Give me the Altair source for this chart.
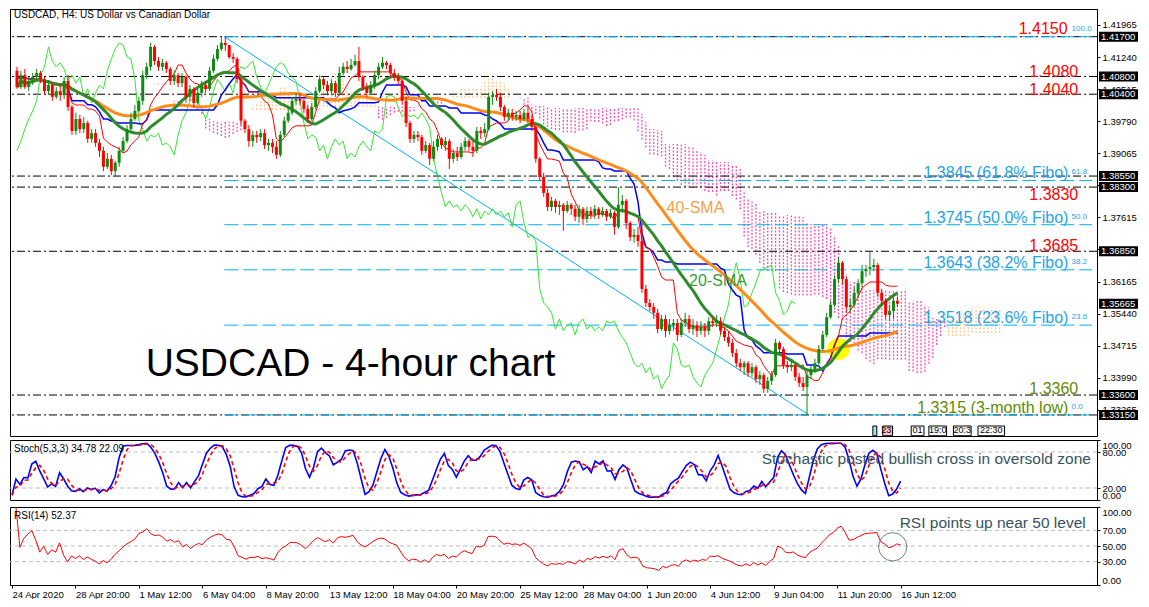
import json
import altair as alt
import pandas as pd
import numpy as np

# ---------------- data ----------------
OPEN0 = 1.4093
CLOSE = [
 1.4056,1.4083,1.4056,1.4070,1.4079,1.4088,1.4074,1.4047,1.4061,1.4034,
 1.4047,1.4038,1.4070,1.4011,1.3957,1.3984,1.3961,1.3975,1.3939,1.3952,
 1.3930,1.3912,1.3876,1.3894,1.3866,1.3885,1.3912,1.3934,1.3961,1.3984,
 1.4002,1.4025,1.4083,1.4102,1.4147,1.4115,1.4102,1.4111,1.4097,1.4070,
 1.4083,1.4065,1.4079,1.4034,1.4052,1.4020,1.4043,1.4061,1.4052,1.4093,
 1.4120,1.4142,1.4156,1.4151,1.4124,1.4120,1.4074,1.3980,1.3961,1.3934,
 1.3948,1.3943,1.3952,1.3925,1.3930,1.3921,1.3903,1.3948,1.3980,1.3998,
 1.4025,1.4029,1.4025,1.4007,1.3984,1.4011,1.4047,1.4074,1.4061,1.4047,
 1.4065,1.4043,1.4088,1.4102,1.4097,1.4106,1.4115,1.4079,1.4056,1.4043,
 1.4061,1.4083,1.4102,1.4111,1.4106,1.4088,1.4079,1.4070,1.4025,1.3975,
 1.3939,1.3948,1.3943,1.3912,1.3925,1.3894,1.3921,1.3939,1.3925,1.3934,
 1.3894,1.3907,1.3898,1.3921,1.3934,1.3921,1.3912,1.3957,1.3952,1.3961,
 1.4034,1.4038,1.4034,1.4011,1.3989,1.3998,1.3989,1.3993,1.3984,1.3998,
 1.3984,1.3966,1.3894,1.3853,1.3817,1.3785,1.3799,1.3785,1.3790,1.3776,
 1.3790,1.3781,1.3763,1.3781,1.3758,1.3776,1.3767,1.3781,1.3767,1.3776,
 1.3763,1.3772,1.3740,1.3790,1.3799,1.3749,1.3717,1.3722,1.3708,1.3600,
 1.3568,1.3559,1.3546,1.3509,1.3532,1.3505,1.3518,1.3523,1.3496,1.3523,
 1.3532,1.3509,1.3518,1.3505,1.3514,1.3505,1.3527,1.3523,1.3527,1.3505,
 1.3491,1.3478,1.3455,1.3432,1.3423,1.3432,1.3410,1.3423,1.3396,1.3405,
 1.3374,1.3392,1.3405,1.3478,1.3464,1.3428,1.3423,1.3428,1.3401,1.3387,
 1.3378,1.3405,1.3419,1.3432,1.3464,1.3496,1.3536,1.3564,1.3622,1.3659,
 1.3622,1.3559,1.3564,1.3591,1.3613,1.3640,1.3645,1.3649,1.3654,1.3591,
 1.3573,1.3541,1.3550,1.3573,1.35665]
HIGH = [
 1.4102,1.4093,1.4097,1.4079,1.4088,1.4097,1.4093,1.4079,1.4070,1.4065,
 1.4056,1.4061,1.4079,1.4083,1.4016,1.3998,1.3993,1.3989,1.3980,1.3961,
 1.3961,1.3939,1.3921,1.3907,1.3903,1.3889,1.3921,1.3943,1.3970,1.3998,
 1.4016,1.4034,1.4093,1.4111,1.4156,1.4151,1.4124,1.4120,1.4115,1.4102,
 1.4093,1.4088,1.4088,1.4083,1.4061,1.4056,1.4052,1.4070,1.4070,1.4102,
 1.4129,1.4151,1.4169,1.4170,1.4151,1.4133,1.4124,1.4079,1.3984,1.3970,
 1.3957,1.3957,1.3961,1.3961,1.3939,1.3939,1.3934,1.3957,1.3989,1.4011,
 1.4034,1.4043,1.4043,1.4029,1.4016,1.4020,1.4056,1.4083,1.4079,1.4070,
 1.4074,1.4070,1.4102,1.4111,1.4115,1.4120,1.4129,1.4147,1.4083,1.4065,
 1.4070,1.4093,1.4111,1.4124,1.4115,1.4111,1.4097,1.4088,1.4074,1.4034,
 1.3980,1.3957,1.3957,1.3948,1.3934,1.3930,1.3934,1.3948,1.3943,1.3943,
 1.3939,1.3916,1.3921,1.3930,1.3943,1.3939,1.3934,1.3966,1.3966,1.3975,
 1.4043,1.4047,1.4052,1.4043,1.4016,1.4007,1.4007,1.4002,1.4002,1.4007,
 1.4011,1.3993,1.3970,1.3898,1.3862,1.3826,1.3808,1.3803,1.3799,1.3794,
 1.3799,1.3794,1.3790,1.3790,1.3785,1.3785,1.3785,1.3790,1.3785,1.3785,
 1.3781,1.3781,1.3776,1.3830,1.3812,1.3803,1.3753,1.3735,1.3740,1.3749,
 1.3609,1.3577,1.3568,1.3555,1.3541,1.3541,1.3532,1.3532,1.3532,1.3532,
 1.3546,1.3541,1.3532,1.3527,1.3527,1.3523,1.3536,1.3536,1.3541,1.3536,
 1.3514,1.3505,1.3487,1.3464,1.3442,1.3437,1.3437,1.3432,1.3428,1.3414,
 1.3410,1.3401,1.3414,1.3487,1.3482,1.3469,1.3437,1.3437,1.3432,1.3410,
 1.3401,1.3414,1.3428,1.3442,1.3473,1.3505,1.3546,1.3573,1.3631,1.3672,
 1.3663,1.3627,1.3577,1.3604,1.3622,1.3654,1.3654,1.3685,1.3668,1.3659,
 1.3600,1.3577,1.3564,1.3582,1.3582]
LOW = [
 1.4052,1.4052,1.4052,1.4047,1.4061,1.4070,1.4065,1.4038,1.4038,1.4025,
 1.4029,1.4025,1.4029,1.4002,1.3948,1.3948,1.3952,1.3952,1.3930,1.3930,
 1.3921,1.3898,1.3866,1.3871,1.3857,1.3853,1.3876,1.3907,1.3930,1.3957,
 1.3980,1.3998,1.4016,1.4074,1.4093,1.4106,1.4093,1.4093,1.4088,1.4061,
 1.4061,1.4056,1.4056,1.4025,1.4025,1.4011,1.4016,1.4034,1.4043,1.4047,
 1.4088,1.4115,1.4138,1.4138,1.4120,1.4111,1.4065,1.3970,1.3952,1.3921,
 1.3921,1.3930,1.3934,1.3916,1.3912,1.3907,1.3894,1.3898,1.3943,1.3975,
 1.3993,1.4016,1.4016,1.3998,1.3975,1.3980,1.4007,1.4043,1.4052,1.4038,
 1.4038,1.4034,1.4038,1.4083,1.4088,1.4093,1.4102,1.4070,1.4047,1.4034,
 1.4038,1.4052,1.4074,1.4097,1.4097,1.4079,1.4070,1.4061,1.4016,1.3966,
 1.3930,1.3930,1.3934,1.3903,1.3907,1.3880,1.3889,1.3912,1.3916,1.3912,
 1.3871,1.3885,1.3889,1.3894,1.3912,1.3912,1.3898,1.3907,1.3939,1.3943,
 1.3957,1.4016,1.4025,1.4002,1.3980,1.3980,1.3980,1.3980,1.3975,1.3980,
 1.3975,1.3957,1.3885,1.3844,1.3808,1.3776,1.3776,1.3772,1.3767,1.3731,
 1.3772,1.3767,1.3753,1.3749,1.3744,1.3749,1.3758,1.3758,1.3758,1.3763,
 1.3753,1.3758,1.3722,1.3735,1.3772,1.3735,1.3708,1.3704,1.3695,1.3591,
 1.3559,1.3550,1.3532,1.3500,1.3505,1.3491,1.3496,1.3505,1.3482,1.3491,
 1.3514,1.3500,1.3496,1.3491,1.3496,1.3491,1.3496,1.3514,1.3514,1.3496,
 1.3482,1.3469,1.3446,1.3423,1.3414,1.3405,1.3401,1.3401,1.3387,1.3383,
 1.3365,1.3365,1.3383,1.3401,1.3455,1.3419,1.3410,1.3414,1.3392,1.3378,
 1.3369,1.3315,1.3396,1.3410,1.3428,1.3460,1.3491,1.3532,1.3559,1.3613,
 1.3609,1.3546,1.3546,1.3559,1.3582,1.3604,1.3627,1.3631,1.3640,1.3582,
 1.3564,1.3532,1.3527,1.3532,1.3559]

TICK_LABELS = ["24 Apr 2020", "28 Apr 20:00", "1 May 12:00", "6 May 04:00", "8 May 20:00",
               "13 May 12:00", "18 May 04:00", "20 May 20:00", "25 May 12:00", "28 May 04:00",
               "1 Jun 20:00", "4 Jun 12:00", "9 Jun 04:00", "11 Jun 20:00", "16 Jun 12:00"]
PRICE_TICKS = [1.41965, 1.41240, 1.40515, 1.39790, 1.39065, 1.38340, 1.37615,
               1.36890, 1.36165, 1.35440, 1.34715, 1.33990, 1.33265]
LEVELS = [1.4170, 1.4080, 1.4040, 1.3855, 1.3830, 1.3685, 1.3360, 1.3315]
LAST_PRICE = 1.35665
FIBO_LEVELS = [1.4170, 1.3845, 1.3745, 1.3643, 1.3518, 1.3315]
FIBO_PCT = ["100.0", "61.8", "50.0", "38.2", "23.6", "0.0"]
FIBO_START = 52.75
TREND_I = [52.75, 201.5]
TREND_P = [1.4170, 1.3315]
RED_TEXT = ["1.4150", "1.4080", "1.4040", "1.3830", "1.3685"]
RED_TEXT_AT = [1.4170, 1.4080, 1.4040, 1.3830, 1.3685]
FIBO_TEXT = ["1.3845 (61.8% Fibo)", "1.3745 (50.0% Fibo)", "1.3643 (38.2% Fibo)", "1.3518 (23.6% Fibo)"]
FIBO_TEXT_AT = [1.3845, 1.3745, 1.3643, 1.3518]
GREEN_TEXT = ["1.3360", "1.3315 (3-month low)"]
GREEN_TEXT_AT = [1.3360, 1.3315]
HILITE_I, HILITE_P = [209], [1.3464]
STO_LEVELS = [20, 80]
RSI_LEVELS = [30, 50, 70]
STO_HEADER = "Stoch(5,3,3) 34.78 22.09"
RSI_HEADER = "RSI(14) 52.37"
BOX_TEXT = ["", "23:", "01", "19:0", "20:3", "22:30"]
BOX_I0 = [217.75, 220.25, 227.5, 232.0, 238.25, 244.5]
BOX_I1 = [218.75, 222.75, 230.75, 236.5, 242.75, 251.25]
BOX_KIND = ["blue", "pink", "white", "white", "white", "white"]

# ---------------- derived series ----------------
n = min(len(CLOSE), len(HIGH), len(LOW))
close = pd.Series(CLOSE[:n], dtype=float)
opn = pd.Series([OPEN0] + CLOSE[:n - 1], dtype=float)
high = pd.concat([pd.Series(HIGH[:n]), opn, close], axis=1).max(axis=1)
low = pd.concat([pd.Series(LOW[:n]), opn, close], axis=1).min(axis=1)
idx = np.arange(n)

cdf = pd.DataFrame({"i": idx, "open": opn, "close": close, "high": high, "low": low})
cdf["sma20"] = close.rolling(20, min_periods=1).mean()
cdf["sma40"] = close.rolling(40, min_periods=1).mean()
tenkan = (high.rolling(9, min_periods=1).max() + low.rolling(9, min_periods=1).min()) / 2
kijun = (high.rolling(26, min_periods=1).max() + low.rolling(26, min_periods=1).min()) / 2
cdf["tenkan"] = tenkan
cdf["kijun"] = kijun
up = cdf[cdf["close"] >= cdf["open"]]
down = cdf[cdf["close"] < cdf["open"]]

spanA = (tenkan + kijun) / 2
spanB = (high.rolling(52, min_periods=1).max() + low.rolling(52, min_periods=1).min()) / 2
cloud = pd.DataFrame({"i": idx + 26, "lo": np.minimum(spanA, spanB), "hi": np.maximum(spanA, spanB),
                      "bull": spanA >= spanB})
cloud_bull = cloud[cloud["bull"]]
cloud_bear = cloud[~cloud["bull"]]
chikou = pd.DataFrame({"i": idx[26:] - 26, "p": close.values[26:]})

ll5 = low.rolling(5, min_periods=1).min()
hh5 = high.rolling(5, min_periods=1).max()
K = 100 * (close - ll5).rolling(3, min_periods=1).sum() / (hh5 - ll5).rolling(3, min_periods=1).sum()
D = K.rolling(3, min_periods=1).mean()
sdf = pd.DataFrame({"i": idx, "k": K, "d": D})

diff = close.diff()
gain = diff.clip(lower=0).ewm(alpha=1 / 14, adjust=True).mean()
loss = (-diff).clip(lower=0).ewm(alpha=1 / 14, adjust=True).mean()
rsi = 100 * gain / (gain + loss)
rdf = pd.DataFrame({"i": idx, "r": rsi}).iloc[1:]

# ---------------- layout ----------------
W = 1087
H_MAIN, H_STO, H_RSI = 427, 60, 78
FONT = "Liberation Sans"
RED = "#FF0000"
GREEN = "#108A10"
FIBO_C = "#00B2F0"
FIBO_T = "#1FA3E6"
OLIVE = "#5E8C00"
NOTE = "#36525E"

xs = alt.Scale(domain=[-0.5, 273.5], nice=False, zero=False)
ys = alt.Scale(domain=[1.32674, 1.42326], nice=False, zero=False)
ss = alt.Scale(domain=[0, 100], nice=False, zero=False)

yaxis_main = alt.Axis(orient="right", values=PRICE_TICKS, format=".5f", title=None, grid=False,
                      labelFontSize=9.5, labelFont=FONT, labelColor="black", tickColor="black",
                      domainColor="black", tickSize=3, labelPadding=2, labelFlush=False,
                      labelOverlap=False)
sto_axis = alt.Axis(orient="right", values=[0, 20, 80, 100], format=".2f", title=None, grid=False,
                    labelFontSize=9.5, labelFont=FONT, labelColor="black", tickColor="black",
                    domainColor="black", tickSize=3, labelPadding=2, labelFlush=True, labelOverlap=False)
rsi_axis = alt.Axis(orient="right", values=[0, 30, 50, 70, 100], format=".2f", title=None, grid=False,
                    labelFontSize=9.5, labelFont=FONT, labelColor="black", tickColor="black",
                    domainColor="black", tickSize=3, labelPadding=2, labelFlush=True, labelOverlap=False)
label_expr = json.dumps(TICK_LABELS).replace('"', "'") + "[round(datum.value / 16)]"
x_axis = alt.Axis(values=list(range(0, 225, 16)), labelExpr=label_expr, labelAlign="left",
                  labelPadding=1, tickSize=3, grid=False, title=None, labelFontSize=9.5,
                  labelFont=FONT, labelColor="black", tickColor="black", domainColor="black",
                  labelFlush=False, labelOverlap=False)


def XM(field="i:Q"):
    return alt.X(field, scale=xs, axis=None)


def YM(field):
    return alt.Y(field, scale=ys, axis=yaxis_main)


def YS(field):
    return alt.Y(field, scale=ss, axis=sto_axis)


def YR(field):
    return alt.Y(field, scale=ss, axis=rsi_axis)


def XR(field="i:Q"):
    return alt.X(field, scale=xs, axis=x_axis)


def label(text, i, p, color, size, align="left", dy=0, baseline="middle"):
    d = pd.DataFrame({"i": [i], "p": [p], "t": [text]})
    return alt.Chart(d).mark_text(align=align, baseline=baseline, dy=dy, color=color,
                                  fontSize=size, font=FONT).encode(x=XM(), y=YM("p:Q"), text="t:N")


layers = []
for part, col in ((cloud_bear, "#FF4FAE"), (cloud_bull, "#FFC58F")):
    layers.append(alt.Chart(part).mark_rule(strokeWidth=1.3, strokeDash=[2, 1.5], color=col).encode(
        x=XM(), y=YM("lo:Q"), y2="hi:Q"))
layers.append(alt.Chart(pd.DataFrame({"i": HILITE_I, "p": HILITE_P})).mark_point(
    filled=True, color="#FFFF00", opacity=1, size=490, shape="circle").encode(x=XM(), y=YM("p:Q")))
layers.append(alt.Chart(pd.DataFrame({"p": LEVELS})).mark_rule(
    color="black", strokeWidth=1, strokeDash=[8, 3, 2, 3]).encode(y=YM("p:Q")))
layers.append(alt.Chart(pd.DataFrame({"p": FIBO_LEVELS, "x0": FIBO_START, "x1": 273.5})).mark_rule(
    color=FIBO_C, strokeWidth=1, strokeDash=[14, 5]).encode(x=XM("x0:Q"), x2="x1:Q", y=YM("p:Q")))
layers.append(alt.Chart(pd.DataFrame({"i": TREND_I, "p": TREND_P})).mark_line(
    color=FIBO_C, strokeWidth=1).encode(x=XM(), y=YM("p:Q")))
layers.append(alt.Chart(chikou).mark_line(color="#2EEB2E", strokeWidth=1).encode(x=XM(), y=YM("p:Q")))
layers.append(alt.Chart(cdf).mark_line(color="#0000FF", strokeWidth=1.5).encode(x=XM(), y=YM("kijun:Q")))
layers.append(alt.Chart(cdf).mark_line(color=RED, strokeWidth=1).encode(x=XM(), y=YM("tenkan:Q")))
layers.append(alt.Chart(cdf).mark_line(color="#FF8C1A", strokeWidth=3).encode(x=XM(), y=YM("sma40:Q")))
layers.append(alt.Chart(cdf).mark_line(color="#2E8B2E", strokeWidth=3).encode(x=XM(), y=YM("sma20:Q")))
for part, col in ((up, GREEN), (down, RED)):
    layers.append(alt.Chart(part).mark_rule(strokeWidth=1, color=col).encode(
        x=XM(), y=YM("low:Q"), y2="high:Q"))
    layers.append(alt.Chart(part).mark_bar(size=3, color=col).encode(
        x=XM(), y=YM("open:Q"), y2="close:Q"))

# annotations
layers.append(alt.Chart(pd.DataFrame({"t": ["USDCAD, H4:  US Dollar vs Canadian Dollar"]})).mark_text(
    align="left", baseline="top", fontSize=10, font=FONT, color="black").encode(
    x=alt.value(4), y=alt.value(1), text="t:N"))
layers.append(label("USDCAD - 4-hour chart", 32.75, 1.34302, "black", 39))
layers.append(label("40-SMA", 165.25, 1.37828, "#F7A04A", 16))
layers.append(label("20-SMA", 171.0, 1.36178, "#3A9A3A", 16))
for t, p, dy, xi in zip(RED_TEXT, RED_TEXT_AT, [-8, -5, -4, 8, -5], [267.3, 270.0, 270.0, 270.0, 270.0]):
    layers.append(label(t, xi, p, RED, 16, align="right", dy=dy))
for t, p in zip(FIBO_TEXT, FIBO_TEXT_AT):
    layers.append(label(t, 267.5, p, FIBO_T, 16, align="right", dy=-7))
for t, p, dy, xi in zip(GREEN_TEXT, GREEN_TEXT_AT, [-6, -7], [270.0, 267.5]):
    layers.append(label(t, xi, p, OLIVE, 16, align="right", dy=dy))
for t, p in zip(FIBO_PCT, FIBO_LEVELS):
    layers.append(label(t, 268.3, p, FIBO_T, 8, align="left", dy=-8))

# bottom event boxes
bx = pd.DataFrame({"x0": BOX_I0, "x1": BOX_I1, "t": BOX_TEXT, "kind": BOX_KIND,
                   "p0": 1.3290, "p1": 1.3268})
bx["xm"] = (bx["x0"] + bx["x1"]) / 2
for kind, col in (("blue", "#A8E4F8"), ("pink", "#FFC0CB"), ("white", "#FFFFFF")):
    layers.append(alt.Chart(bx[bx["kind"] == kind]).mark_rect(stroke="black", strokeWidth=1, fill=col).encode(
        x=XM("x0:Q"), x2="x1:Q", y=YM("p0:Q"), y2="p1:Q"))
layers.append(alt.Chart(bx).mark_text(fontSize=9, font=FONT, color="black", baseline="middle").encode(
    x=XM("xm:Q"), y=alt.value(H_MAIN - 6), text="t:N"))

# price boxes on the axis
boxes = pd.DataFrame({"p": LEVELS + [LAST_PRICE]})
boxes["t"] = [f"{v:.5f}" for v in boxes["p"]]
layers.append(alt.Chart(boxes).mark_rect(color="black", yOffset=-5, y2Offset=5).encode(
    x=alt.value(W + 2), x2=alt.value(W + 41), y=YM("p:Q"), y2="p:Q"))
layers.append(alt.Chart(boxes).mark_text(align="left", baseline="middle", color="white",
                                         fontSize=9.5, font=FONT).encode(
    x=alt.value(W + 4), y=YM("p:Q"), text="t:N"))

main = alt.layer(*layers).properties(width=W, height=H_MAIN)

# ---------------- stochastic panel ----------------
sto = alt.layer(
    alt.Chart(pd.DataFrame({"v": STO_LEVELS})).mark_rule(color="#BDBDBD", strokeDash=[4, 3]).encode(
        y=YS("v:Q")),
    alt.Chart(sdf).mark_line(color="#0000FF", strokeWidth=1.6).encode(x=XM(), y=YS("k:Q")),
    alt.Chart(sdf).mark_line(color=RED, strokeWidth=1.6, strokeDash=[4, 3]).encode(x=XM(), y=YS("d:Q")),
    alt.Chart(pd.DataFrame({"t": [STO_HEADER]})).mark_text(
        align="left", baseline="top", fontSize=10, font=FONT, color="black").encode(
        x=alt.value(4), y=alt.value(4), text="t:N"),
    alt.Chart(pd.DataFrame({"i": [189.0], "v": [68.0],
                            "t": ["Stochastic posted bullish cross in oversold zone"]})).mark_text(
        align="left", baseline="middle", fontSize=15.5, font=FONT, color=NOTE).encode(
        x=XM(), y=YS("v:Q"), text="t:N"),
).properties(width=W, height=H_STO)

# ---------------- RSI panel ----------------
rsi_chart = alt.layer(
    alt.Chart(pd.DataFrame({"v": RSI_LEVELS})).mark_rule(color="#BDBDBD", strokeDash=[4, 3]).encode(
        y=YR("v:Q")),
    alt.Chart(rdf).mark_line(color=RED, strokeWidth=1).encode(x=XR(), y=YR("r:Q")),
    alt.Chart(pd.DataFrame({"t": [RSI_HEADER]})).mark_text(
        align="left", baseline="top", fontSize=10, font=FONT, color="black").encode(
        x=alt.value(4), y=alt.value(4), text="t:N"),
    alt.Chart(pd.DataFrame({"i": [223.75], "v": [79.0], "t": ["RSI points up near 50 level"]})).mark_text(
        align="left", baseline="middle", fontSize=15.5, font=FONT, color=NOTE).encode(
        x=XR(), y=YR("v:Q"), text="t:N"),
    alt.Chart(pd.DataFrame({"i": [222.0], "v": [49.0]})).mark_point(
        filled=False, color="#2F4F4F", size=800, strokeWidth=1, shape="circle").encode(
        x=XR(), y=YR("v:Q")),
).properties(width=W, height=H_RSI)

chart = alt.vconcat(main, sto, rsi_chart, spacing=2).properties(
    padding=0, background="white"
).configure_view(stroke="black", strokeWidth=1).configure_axis(
    grid=False, domainColor="black", tickColor="black", labelColor="black"
)

chart.save("out.html", embed_options={"renderer": "svg", "actions": False})
